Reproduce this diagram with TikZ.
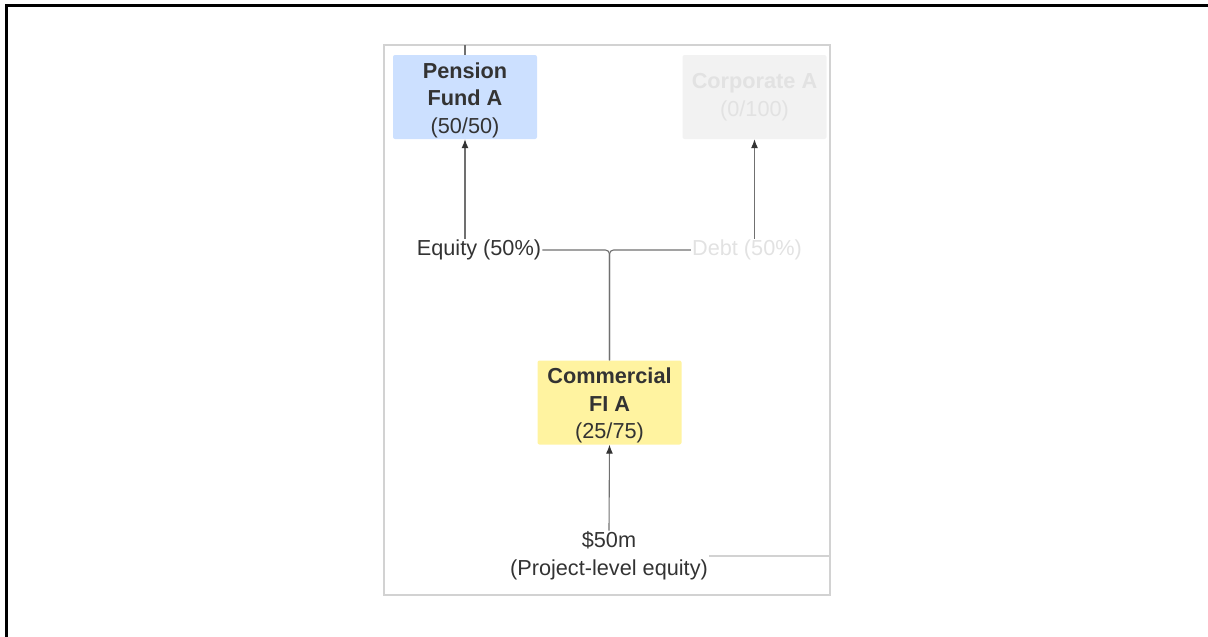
\documentclass[tikz,border=0pt]{standalone}
\usepackage{fontspec}
\setmainfont{Liberation Sans}
\usepackage{tikz}
\usetikzlibrary{arrows.meta}

\definecolor{boxtext}{HTML}{333333}
\definecolor{fadetext}{HTML}{E2E2E2}
\definecolor{linegray}{HTML}{707070}
\definecolor{framegray}{HTML}{D2D2D2}
\definecolor{pfblue}{HTML}{CCE0FF}
\definecolor{cpgray}{HTML}{F2F2F2}
\definecolor{fiyellow}{HTML}{FFF3A0}

\newcommand{\topstrut}{\rule{0pt}{22pt}}

\tikzset{
	party/.style={rounded corners=2pt, minimum width=144pt, minimum height=84pt,
		inner ysep=0pt, align=center, text=boxtext, font=\fontsize{21.7}{27.5}\selectfont},
	lbl/.style={text=boxtext, inner sep=1pt, align=center,
		font=\fontsize{21.7}{28}\selectfont},
	flow/.style={draw=linegray, line width=1.1pt},
	arr/.style={flow, -{Latex[length=9pt,width=7pt,color=boxtext]}}
}

\begin{document}
\begin{tikzpicture}[x=1pt,y=-1pt]
	\useasboundingbox (0,0) rectangle (1208,637);
	\draw[line width=3pt] (6,637) -- (6,5) -- (1208,5);
	\draw[framegray, line width=1.5pt] (384,45) rectangle (830,595);
	
	\node[party, fill=pfblue] (pf) at (465,97) {\topstrut\textbf{Pension}\\\textbf{Fund A}\\(50/50)};
	\node[party, fill=cpgray, text=fadetext] (cp) at (754.5,97) {\textbf{Corporate A}\\(0/100)};
	\node[party, fill=fiyellow] (cfi) at (609.5,402.5) {\topstrut\textbf{Commercial}\\\textbf{FI A}\\(25/75)};
	
	\node[lbl] (eq) at (479,250) {Equity (50\%)};
	\node[lbl, text=fadetext] (debt) at (747,250) {Debt (50\%)};
	\node[lbl] (amt) at (609,556) {\$50m\\(Project-level equity)};
	
	\coordinate (ftop) at (465,45);
	\coordinate (fright) at (830,556);
	
	\draw[flow] (pf.north) -- (ftop);
	\draw[arr] (eq.north -| pf.south) -- (pf.south);
	\draw[arr] (debt.north -| cp.south) -- (cp.south);
	\draw[flow, rounded corners=4pt] (eq.east) -| (cfi.north);
	\draw[flow, rounded corners=4pt] (debt.west) -| (cfi.north);
	\draw[arr] (amt.north) -- (cfi.south);
	\draw[flow, draw=framegray] (amt.east) -- (amt.east -| fright);
\end{tikzpicture}
\end{document}
